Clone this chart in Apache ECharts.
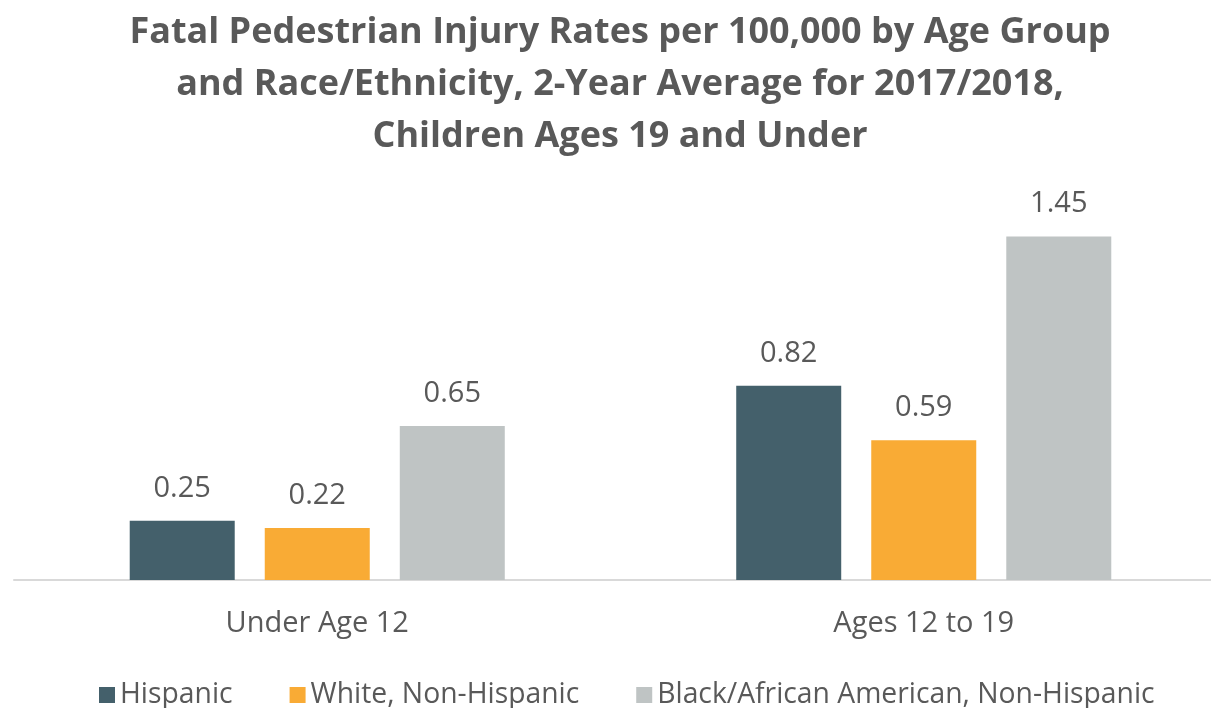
<!DOCTYPE html>
<html>
<head>
<meta charset="utf-8">
<script src="https://cdn.jsdelivr.net/npm/echarts@6/dist/echarts.min.js"></script>
<style>
  html, body { margin: 0; padding: 0; background: #ffffff; }
  #chart { width: 1211px; height: 708px; }
</style>
</head>
<body>
<div id="chart"></div>
<script>
// Age groups along the x axis
const ageGroups = ['Under Age 12', 'Ages 12 to 19'];

// Fatal pedestrian injury rates per 100,000
const hispanic = [0.25, 0.82];
const whiteNonHispanic = [0.22, 0.59];
const blackNonHispanic = [0.65, 1.45];

const seriesNames = ['Hispanic', 'White, Non-Hispanic', 'Black/African American, Non-Hispanic'];

const titleText = 'Fatal Pedestrian Injury Rates per 100,000 by Age Group\nand Race/Ethnicity, 2-Year Average for 2017/2018,\nChildren Ages 19 and Under';

const textColor = '#595959';
const fontFamily = '"Open Sans", "Noto Sans", sans-serif';
const colors = ['#44606b', '#f9ab35', '#bfc4c4'];

const chart = echarts.init(document.getElementById('chart'), null, { renderer: 'canvas' });

function barSeries(name, data, color) {
  return {
    name: name,
    type: 'bar',
    data: data,
    barWidth: 105,
    barGap: '28.6%',
    itemStyle: { color: color },
    label: {
      show: true,
      position: 'top',
      distance: 18,
      color: textColor,
      fontFamily: fontFamily,
      fontSize: 29,
      formatter: p => p.value.toFixed(2)
    }
  };
}

chart.setOption({
  animation: false,
  backgroundColor: '#ffffff',
  title: {
    text: titleText,
    left: 615,
    top: 2,
    textAlign: 'center',
    textStyle: {
      color: textColor,
      fontFamily: fontFamily,
      fontWeight: 'bold',
      fontSize: 36,
      lineHeight: 52
    }
  },
  legend: {
    left: 94,
    top: 676,
    itemWidth: 16,
    itemHeight: 16,
    itemGap: 57,
    icon: 'rect',
    textStyle: {
      color: textColor,
      fontFamily: fontFamily,
      fontSize: 28.3
    },
    data: seriesNames
  },
  grid: {
    left: 14,
    width: 1213,
    top: 201,
    bottom: 128,
    containLabel: false,
    outerBoundsMode: 'none'
  },
  xAxis: {
    type: 'category',
    data: ageGroups,
    axisLine: { show: true, lineStyle: { color: '#d9d9d9', width: 2 } },
    axisTick: { show: false },
    axisLabel: {
      color: textColor,
      fontFamily: fontFamily,
      fontSize: 29,
      margin: 29
    }
  },
  yAxis: {
    type: 'value',
    min: 0,
    max: 1.6,
    show: false,
    splitLine: { show: false }
  },
  series: [
    barSeries(seriesNames[0], hispanic, colors[0]),
    barSeries(seriesNames[1], whiteNonHispanic, colors[1]),
    barSeries(seriesNames[2], blackNonHispanic, colors[2])
  ]
});
</script>
</body>
</html>
